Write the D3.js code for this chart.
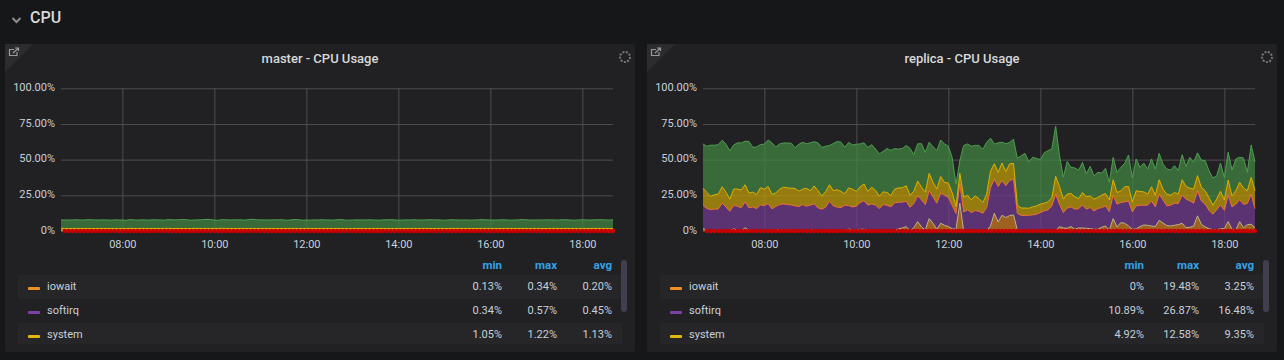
<!DOCTYPE html>
<html>
<head>
<meta charset="utf-8">
<script src="https://cdn.jsdelivr.net/npm/d3@7"></script>
<style>
  html, body { margin:0; padding:0; background:#161719; overflow:hidden; }
  svg { display:block; font-family:Roboto, sans-serif; }
  .tick text { font-family:Roboto, sans-serif; font-size:11px; fill:#c7d0d9; }
  .tick line { stroke:#4e4e52; stroke-width:1; }
  .domain { display:none; }
</style>
</head>
<body>
<div id="chart"></div>
<script>
const startTime = new Date(2020, 0, 1, 6, 40);
const endTime = new Date(2020, 0, 1, 18, 40);
const timeTicks = [8, 10, 12, 14, 16, 18].map(h => new Date(2020, 0, 1, h));
const percentTicks = [0, 25, 50, 75, 100];
const seriesNames = ["iowait", "softirq", "system", "user"];
const legendNames = ["iowait", "softirq", "system"];
const legendHeads = ["min", "max", "avg"];

const masterStats = [["0.13%","0.34%","0.20%"], ["0.34%","0.57%","0.45%"], ["1.05%","1.22%","1.13%"]];
const replicaStats = [["0%","19.48%","3.25%"], ["10.89%","26.87%","16.48%"], ["4.92%","12.58%","9.35%"]];

const masterIowait = [
  .34,.22,.18,.2,.19,.21,.18,.2,.22,.19,
  .2,.18,.21,.2,.17,.19,.22,.2,.18,.21,
  .19,.2,.23,.18,.2,.19,.17,.21,.2,.22,
  .19,.18,.2,.21,.19,.2,.22,.18,.19,.2,
  .21,.17,.2,.19,.22,.2,.18,.21,.2,.19,
  .18,.2,.22,.19,.21,.2,.18,.19,.2,.23,
  .19,.2,.17,.21,.2,.19,.22,.18,.2,.19,
  .21,.2,.18,.19,.22,.2,.21,.17,.2,.19,
  .2,.22,.18,.19,.21,.2,.13,.19,.2,.22,
  .18,.2,.21,.19,.2,.18,.22,.19,.2,.21,
  .17,.19,.2,.22,.2,.18,.21,.19,.2,.18,
  .22,.2,.19,.21,.18,.2,.19,.22,.2,.17,
  .19,.21,.2,.18,.2,.22,.19,.2,.21,.18,
  .19,.2,.22,.2,.18,.21,.19,.2,.18,.22,
  .2,.19,.21,.2,.19];
const masterSoftirq = [
  .45,.44,.46,.43,.47,.45,.44,.48,.45,.43,
  .46,.45,.42,.47,.44,.46,.45,.43,.48,.45,
  .44,.46,.47,.43,.45,.44,.49,.46,.45,.42,
  .47,.44,.46,.45,.43,.48,.45,.44,.46,.47,
  .43,.45,.57,.46,.44,.45,.42,.47,.44,.46,
  .45,.43,.48,.45,.44,.46,.47,.43,.45,.44,
  .49,.46,.45,.42,.47,.44,.46,.45,.43,.48,
  .45,.44,.46,.47,.34,.45,.44,.49,.46,.45,
  .42,.47,.44,.46,.45,.43,.48,.45,.44,.46,
  .47,.43,.45,.44,.49,.46,.45,.42,.47,.44,
  .46,.45,.43,.48,.45,.44,.46,.47,.43,.45,
  .44,.49,.46,.45,.42,.47,.44,.46,.45,.43,
  .48,.45,.44,.46,.47,.43,.45,.44,.49,.46,
  .45,.42,.47,.44,.46,.45,.43,.48,.45,.44,
  .46,.47,.43,.45,.44];
const masterSystem = [
  1.12,1.14,1.1,1.15,1.13,1.11,1.16,1.12,1.09,1.14,
  1.13,1.17,1.11,1.12,1.15,1.1,1.14,1.13,1.18,1.11,
  1.12,1.15,1.09,1.14,1.13,1.16,1.11,1.12,1.22,1.1,
  1.13,1.15,1.12,1.14,1.09,1.16,1.13,1.11,1.15,1.12,
  1.14,1.1,1.17,1.13,1.12,1.15,1.11,1.14,1.05,1.13,
  1.16,1.12,1.1,1.14,1.13,1.17,1.11,1.12,1.15,1.09,
  1.14,1.13,1.16,1.11,1.12,1.18,1.1,1.13,1.15,1.12,
  1.14,1.09,1.16,1.13,1.11,1.15,1.12,1.14,1.1,1.17,
  1.13,1.12,1.15,1.11,1.14,1.09,1.13,1.16,1.12,1.1,
  1.14,1.13,1.17,1.11,1.12,1.15,1.09,1.14,1.13,1.16,
  1.11,1.12,1.18,1.1,1.13,1.15,1.12,1.14,1.09,1.16,
  1.13,1.11,1.15,1.12,1.14,1.1,1.17,1.13,1.12,1.15,
  1.11,1.14,1.09,1.13,1.16,1.12,1.1,1.14,1.13,1.17,
  1.11,1.12,1.15,1.09,1.14,1.13,1.16,1.11,1.12,1.18,
  1.1,1.13,1.15,1.12,1.14];
const masterUser = [
  5.8,5.9,6.0,6.0,6.1,6.0,5.9,6.2,6.1,6.0,
  5.9,6.0,6.0,5.8,6.1,6.0,5.9,5.7,6.2,6.0,
  5.9,6.0,6.0,5.9,6.1,6.0,6.0,5.8,6.2,6.1,
  6.0,6.2,6.3,6.0,5.9,5.9,6.0,6.2,6.4,6.2,
  5.9,5.8,6.0,6.1,6.0,6.0,6.1,6.0,5.9,6.3,
  6.4,6.2,6.0,6.0,5.9,6.0,6.1,6.1,6.0,5.8,
  6.0,6.3,6.1,5.9,5.9,5.8,6.0,6.0,6.1,6.0,
  5.9,5.9,6.1,6.2,6.0,5.8,5.9,6.0,6.0,5.9,
  6.1,6.0,5.9,5.8,6.0,6.1,6.2,6.0,5.8,5.9,
  6.0,6.0,6.1,6.0,5.9,6.0,6.2,6.1,6.0,5.9,
  5.8,6.0,6.1,6.0,5.9,6.0,5.9,5.8,6.0,6.1,
  6.2,6.0,5.9,5.9,6.0,6.1,6.0,5.8,5.9,6.0,
  6.2,6.1,6.0,5.9,5.9,6.0,6.0,6.1,6.0,5.9,
  6.0,6.2,6.0,5.9,5.8,6.0,6.1,6.0,5.9,6.0,
  6.1,6.2,6.0,5.9,6.1];

const replicaIowait = [
  1.6,.7,0,0,0,0,0,0,1.6,.5,
  0,2.3,.2,0,0,0,0,0,.2,.9,
  .9,.2,.7,0,.7,0,0,0,.7,.7,
  0,0,0,0,0,0,0,0,1.4,.5,
  .7,1.2,1.2,.5,0,0,0,0,0,0,
  .5,1.6,2.1,3.1,.2,2.3,6.6,2.8,.7,8.7,
  5.4,1.2,5.4,4.0,3.1,1.6,1.2,19.48,0,0,
  0,0,0,0,0,3.5,12.4,6.3,11.0,9.4,
  10.8,11.3,.7,0,0,0,0,0,0,0,
  0,0,0,3.1,2.1,1.9,3.1,1.2,2.1,2.1,
  1.9,1.6,1.2,1.2,2.6,3.5,.7,8.7,2.8,5.9,
  5.4,3.5,1.2,1.4,3.1,4.2,4.0,3.5,3.1,7.5,
  5.6,3.8,3.5,4.0,4.5,5.4,2.3,2.6,3.5,10.6,
  4.7,2.8,1.6,.9,.7,1.6,1.6,6.6,1.2,.7,
  6.6,2.3,4.5,4.7,2.3];
const replicaSoftirq = [
  16.4,15.0,15.0,15.3,15.5,19.5,16.9,13.8,16.4,16.7,
  16.4,18.1,16.0,16.9,15.7,18.3,17.8,19.2,15.3,16.4,
  17.6,18.8,17.8,18.3,16.9,17.1,18.5,17.4,17.4,18.3,
  16.2,15.3,16.7,20.9,17.6,16.7,16.4,18.1,16.4,16.4,
  16.7,18.8,20.0,17.6,19.0,18.1,15.7,18.5,18.1,16.9,
  19.2,18.5,18.1,17.8,16.4,16.9,18.1,19.0,17.8,19.5,
  18.5,18.3,21.1,21.1,20.4,16.4,11.0,13.4,13.4,14.8,
  12.9,14.3,13.8,12.4,16.4,26.87,23.9,24.9,24.4,22.3,
  24.6,25.1,11.7,10.89,10.9,11.0,11.3,11.7,12.9,14.1,
  14.8,17.6,25.8,15.7,10.9,14.1,13.8,14.1,13.6,16.0,
  13.4,14.8,12.9,14.6,13.8,14.1,12.9,16.4,16.0,14.1,
  15.0,17.6,12.2,16.2,15.0,13.8,14.1,17.6,13.8,18.3,
  16.2,13.8,14.6,15.5,14.8,19.7,20.0,18.5,16.0,17.6,
  16.4,16.0,12.9,10.9,14.1,16.7,12.9,18.5,15.7,18.1,
  15.3,16.4,14.8,21.1,13.4];
const replicaSystem = [
  12.0,11.3,9.4,10.1,10.3,11.5,10.3,8.5,11.3,12.2,
  12.4,12.0,10.3,10.3,9.9,12.0,11.5,12.0,10.1,9.4,
  10.8,11.7,11.7,11.7,12.2,10.8,10.8,12.5,10.1,12.58,
  12.0,9.2,11.0,11.5,10.6,12.2,11.3,8.0,12.4,12.4,
  10.3,11.0,11.7,9.6,11.7,10.3,8.7,8.9,8.9,8.0,
  9.6,10.1,10.1,10.8,8.5,8.7,10.3,8.9,8.7,12.2,
  10.1,9.9,11.7,8.9,10.1,8.9,4.92,7.5,10.3,10.3,
  8.9,10.3,8.9,7.5,9.4,11.7,10.8,9.9,12.2,9.9,
  11.7,11.0,5.9,5.2,5.2,4.92,5.6,5.9,5.9,5.4,
  5.6,5.9,12.5,12.4,9.4,9.9,9.4,8.7,7.0,8.9,
  8.7,8.2,8.2,7.7,8.7,8.7,8.2,10.8,8.2,8.2,
  10.6,10.1,7.0,10.6,9.6,9.4,7.7,9.9,8.2,10.1,
  7.5,8.2,7.0,7.5,6.6,10.8,8.9,8.9,9.9,10.6,
  9.4,9.4,8.9,6.3,7.5,9.6,7.3,10.6,7.7,9.4,
  12.2,11.3,8.9,11.7,12.4];
const replicaUser = [
  31.0,32.4,35.7,34.7,34.7,32.6,33.6,33.8,31.0,32.4,
  32.9,30.5,36.2,31.5,33.3,30.3,31.5,32.6,36.2,32.2,
  31.7,31.0,31.5,31.5,28.6,32.9,32.9,31.2,33.6,31.0,
  33.6,34.0,31.7,27.5,33.1,33.8,34.5,32.6,31.9,31.0,
  33.1,30.0,28.9,30.8,29.8,29.1,29.6,28.4,30.8,31.7,
  28.4,27.2,27.5,28.2,32.9,25.6,26.1,30.5,27.9,21.8,
  25.1,27.0,25.6,27.0,25.8,24.6,15.7,8.9,36.2,35.9,
  37.6,35.4,37.3,37.3,36.4,23.0,13.8,20.7,14.6,19.5,
  15.0,16.9,32.6,36.6,38.3,32.6,34.7,33.3,31.2,35.2,
  35.9,34.0,35.2,21.6,15.3,22.8,18.3,20.2,20.0,21.1,
  16.0,20.7,16.4,17.6,15.5,17.6,12.2,15.7,14.1,16.4,
  16.4,22.1,16.7,22.3,16.9,20.2,17.6,19.5,18.3,18.5,
  17.6,17.6,17.6,18.8,16.4,17.6,14.1,21.6,18.8,16.0,
  19.2,21.1,18.8,19.0,16.4,19.7,15.7,19.5,18.1,22.3,
  17.6,21.1,12.9,22.8,20.4];

const fills = { iowait:"#cf7a1e", softirq:"#723a91", system:"#c4a007", user:"#438843" };
const lines = { iowait:"#bdb78a", softirq:"#ee6f3c", system:"#e0b400", user:"#4f9e4f" };
const swatches = { iowait:"#ef8f24", softirq:"#7e3fa8", system:"#e5b90b" };

const svg = d3.select("#chart").append("svg").attr("width", 1284).attr("height", 360);

// section header
svg.append("path").attr("d", "M12.5,18 L16.5,22 L20.5,18").attr("fill", "none").attr("stroke", "#8e8e8e").attr("stroke-width", 2);
svg.append("text").attr("x", 30).attr("y", 23).attr("fill", "#d8d9da").style("font-size", "16px").style("font-weight", 500).text("CPU");

function drawPanel(dx, title, columns, stats) {
    const g = svg.append("g").attr("transform", `translate(${dx},0)`);
    g.append("rect").attr("x", 5).attr("y", 44).attr("width", 630).attr("height", 308).attr("rx", 2).attr("fill", "#212124");
    g.append("path").attr("d", "M5,44 L33,44 L5,72 Z").attr("fill", "#2c2c2f");
    g.append("path").attr("d", "M14,49.5 H9.5 V55.5 H17 V52 M13,53 L18,48.5 M15,48 H18.5 V51").attr("fill", "none").attr("stroke", "#9a9a9e").attr("stroke-width", 1.2);
    g.append("circle").attr("cx", 625).attr("cy", 57).attr("r", 5).attr("fill", "none").attr("stroke", "#77777b").attr("stroke-width", 2).attr("stroke-dasharray", "2 1.4");
    g.append("text").attr("x", 320).attr("y", 63).attr("text-anchor", "middle").attr("fill", "#d8d9da")
        .style("font-size", "13px").style("font-weight", 500).text(title);

    const x = d3.scaleTime().domain([startTime, endTime]).range([61, 613]);
    const y = d3.scaleLinear().domain([0, 100]).range([231, 88.3]);

    const xAxis = g.append("g").attr("transform", "translate(0,231)")
        .call(d3.axisBottom(x).tickValues(timeTicks).tickSize(-142.7).tickPadding(9).tickFormat(d3.timeFormat("%H:%M")));
    xAxis.selectAll("text").attr("dy", "0.71em");
    const yAxis = g.append("g").attr("transform", "translate(61,0)")
        .call(d3.axisLeft(y).tickValues(percentTicks).tickSize(-552).tickPadding(6)
            .tickFormat(d => d === 0 ? "0%" : d.toFixed(2) + "%"));
    yAxis.selectAll("text").attr("dy", "0.2em");

    const rows = d3.range(columns.user.length).map(i => {
        const r = { i, time: d3.timeMinute.offset(startTime, i * 5) };
        seriesNames.forEach(s => { r[s] = columns[s][i]; });
        return r;
    });
    const layers = d3.stack().keys(seriesNames)(rows);
    const area = d3.area().x(d => x(d.data.time)).y0(d => y(d[0])).y1(d => y(d[1]));
    const topLine = d3.line().x(d => x(d.data.time)).y(d => y(d[1]));

    g.selectAll(".layer").data(layers).enter().append("path").attr("class", "layer")
        .attr("d", area).attr("fill", d => fills[d.key]).attr("fill-opacity", 0.72);
    g.selectAll(".top").data(layers).enter().append("path").attr("class", "top")
        .attr("d", topLine).attr("fill", "none").attr("stroke", d => lines[d.key]).attr("stroke-width", 1);

    // red series sits on the zero line, with points, first sample missing
    const redRows = rows.slice(1);
    g.append("path").attr("d", d3.line().x(d => x(d.time)).y(y(0))(redRows)).attr("fill", "none").attr("stroke", "#d40000").attr("stroke-width", 1);
    g.selectAll(".dot").data(redRows).enter().append("circle").attr("class", "dot")
        .attr("cx", d => x(d.time)).attr("cy", y(0)).attr("r", 2.2).attr("fill", "#c80000");

    // legend table
    const colRight = [502, 557, 612];
    legendHeads.forEach((h, c) => {
        g.append("text").attr("x", colRight[c]).attr("y", 269).attr("text-anchor", "end").attr("fill", "#33a2e5")
            .style("font-size", "11.5px").style("font-weight", 700).text(h);
    });
    const rowTop = [275, 299, 323], rowHeight = [24, 24, 21];
    legendNames.forEach((name, r) => {
        if (r !== 1) g.append("rect").attr("x", 18).attr("y", rowTop[r]).attr("width", 604).attr("height", rowHeight[r]).attr("fill", "#262628");
        g.append("rect").attr("x", 28).attr("y", rowTop[r] + 12).attr("width", 12).attr("height", 3).attr("rx", 1).attr("fill", swatches[name]);
        g.append("text").attr("x", 47).attr("y", rowTop[r] + 15).attr("fill", "#c7d0d9").style("font-size", "11px").text(name);
        stats[r].forEach((v, c) => {
            g.append("text").attr("x", colRight[c]).attr("y", rowTop[r] + 15).attr("text-anchor", "end")
                .attr("fill", "#c7d0d9").style("font-size", "11px").text(v);
        });
    });
    g.append("rect").attr("x", 621).attr("y", 260).attr("width", 6).attr("height", 52).attr("rx", 3).attr("fill", "#3f3f4e");
}

drawPanel(0, "master - CPU Usage", { iowait: masterIowait, softirq: masterSoftirq, system: masterSystem, user: masterUser }, masterStats);
drawPanel(642, "replica - CPU Usage", { iowait: replicaIowait, softirq: replicaSoftirq, system: replicaSystem, user: replicaUser }, replicaStats);
</script>
</body>
</html>
